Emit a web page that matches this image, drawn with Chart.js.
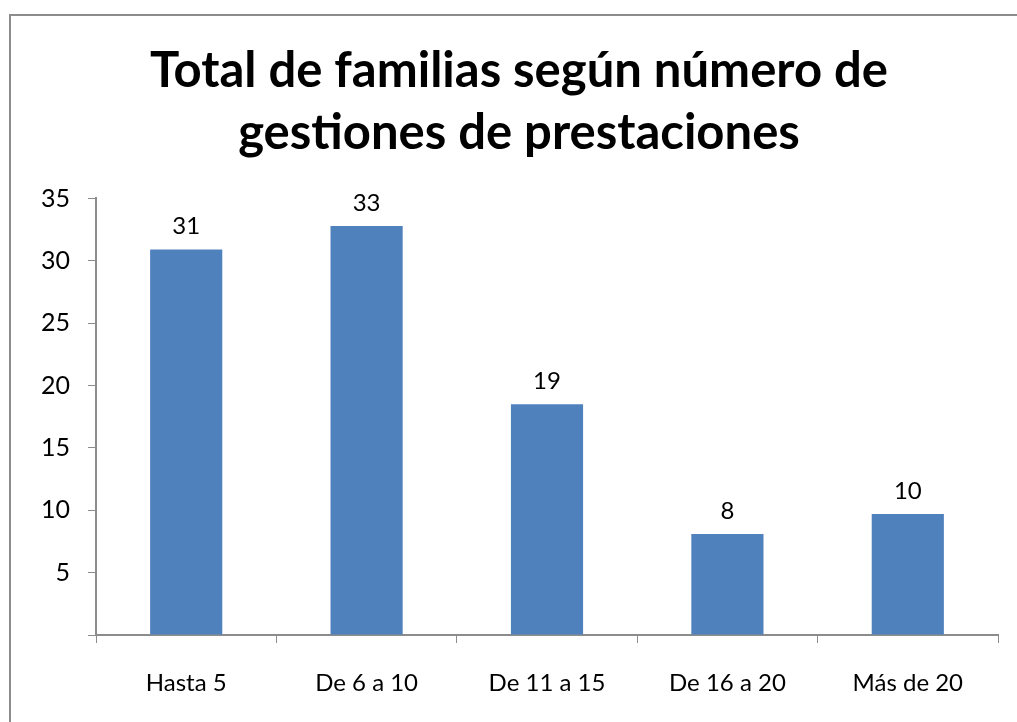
<!DOCTYPE html>
<html>
<head>
<meta charset="utf-8">
<script src="https://cdn.jsdelivr.net/npm/chart.js@4"></script>
<style>
    html, body { margin: 0; padding: 0; background: #fff; overflow: hidden; }
    canvas { display: block; }
</style>
</head>
<body>
<canvas id="chart" width="1017" height="722"></canvas>
<script>
const categories = ['Hasta 5', 'De 6 a 10', 'De 11 a 15', 'De 16 a 20', 'Más de 20'];
const familyShare = [30.9, 32.8, 18.5, 8.1, 9.7];
const titleLines = ['Total de familias según número de', 'gestiones de prestaciones'];

const FONT = 'Lato, "Open Sans", sans-serif';

// outer chart frame: only the left and top edges are visible in the crop
const frame = {
    id: 'frame',
    beforeDraw(chart) {
        const { ctx } = chart;
        ctx.save();
        ctx.strokeStyle = '#8c8c8c';
        ctx.lineWidth = 2;
        ctx.beginPath();
        ctx.moveTo(10, chart.height);
        ctx.lineTo(10, 15);
        ctx.lineTo(chart.width, 15);
        ctx.stroke();
        ctx.restore();
    },
};

// value labels above each bar, rounded like the original
const barLabels = {
    id: 'barLabels',
    afterDatasetsDraw(chart) {
        const { ctx } = chart;
        const meta = chart.getDatasetMeta(0);
        ctx.save();
        ctx.font = '24px ' + FONT;
        ctx.fillStyle = '#000';
        ctx.textAlign = 'center';
        ctx.textBaseline = 'bottom';
        meta.data.forEach((bar, i) => {
            ctx.fillText(String(Math.round(familyShare[i])), bar.x, bar.y - 11);
        });
        ctx.restore();
    },
};

new Chart(document.getElementById('chart'), {
    type: 'bar',
    data: {
        labels: categories,
        datasets: [{
            data: familyShare,
            backgroundColor: '#4f81bd',
            borderWidth: 0,
            categoryPercentage: 1,
            barPercentage: 0.4,
        }],
    },
    options: {
        responsive: false,
        animation: false,
        layout: {
            padding: { left: 40, right: 19, top: 40, bottom: 0 },
        },
        plugins: {
            legend: { display: false },
            tooltip: { enabled: false },
            title: {
                display: true,
                text: titleLines,
                color: '#000',
                font: { family: FONT, size: 49, weight: 'bold', lineHeight: 1.27 },
                padding: { top: 0, bottom: 34 },
            },
        },
        scales: {
            x: {
                grid: {
                    drawOnChartArea: false,
                    drawTicks: true,
                    tickLength: 8,
                    color: '#8c8c8c',
                    offset: true,
                },
                border: { color: '#8c8c8c', width: 2 },
                ticks: {
                    color: '#000',
                    font: { family: FONT, size: 24 },
                    padding: 26,
                },
                afterFit(scale) { scale.height = 87; },
            },
            y: {
                min: 0,
                max: 35,
                grid: {
                    drawOnChartArea: false,
                    drawTicks: true,
                    tickLength: 8,
                    color: '#8c8c8c',
                },
                border: { color: '#8c8c8c', width: 2 },
                ticks: {
                    stepSize: 5,
                    color: '#000',
                    font: { family: FONT, size: 25 },
                    padding: 18,
                    callback: value => value === 0 ? '' : value,
                },
                afterFit(scale) { scale.width = 56; },
            },
        },
    },
    plugins: [frame, barLabels],
});
</script>
</body>
</html>
